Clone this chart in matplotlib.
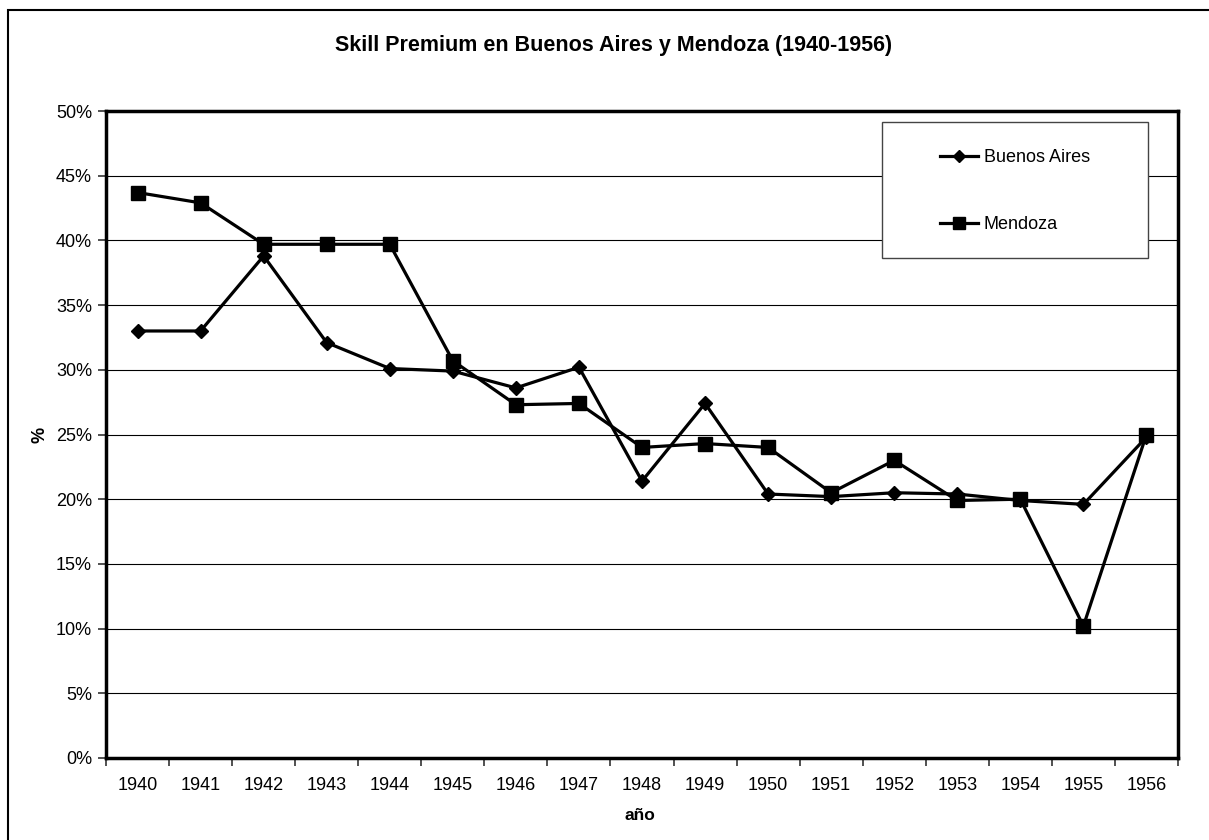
import matplotlib
matplotlib.use("Agg")
import matplotlib.pyplot as plt
from matplotlib.patches import Rectangle
from matplotlib.lines import Line2D
from matplotlib.ticker import FuncFormatter, FixedLocator

plt.rcParams['font.family'] = ['Liberation Sans', 'DejaVu Sans']

years = ['1940', '1941', '1942', '1943', '1944', '1945', '1946', '1947', '1948',
         '1949', '1950', '1951', '1952', '1953', '1954', '1955', '1956']
buenos_aires = [33.0, 33.0, 38.8, 32.1, 30.1, 29.9, 28.6, 30.2, 21.4,
                27.4, 20.4, 20.2, 20.5, 20.4, 19.9, 19.6, 24.8]
mendoza = [43.7, 42.9, 39.7, 39.7, 39.7, 30.7, 27.3, 27.4, 24.0,
           24.3, 24.0, 20.5, 23.0, 19.9, 20.0, 10.2, 25.0]
y_ticks = [0, 5, 10, 15, 20, 25, 30, 35, 40, 45, 50]

W, H = 1209, 840
fig = plt.figure(figsize=(W / 100, H / 100), dpi=100)
# outer chart border (right and bottom edges fall outside the picture)
fig.patches.append(Rectangle((8 / W, -10 / H), 1220 / W, 840 / H, transform=fig.transFigure,
                             fill=False, edgecolor='black', linewidth=1.5))

L, R, T, B = 106, 1178, 111, 758
ax = fig.add_axes([L / W, 1 - B / H, (R - L) / W, (B - T) / H])
x = list(range(len(years)))
ax.plot(x, buenos_aires, color='black', lw=2.3, marker='D', markersize=7, zorder=3)
ax.plot(x, mendoza, color='black', lw=2.3, marker='s', markersize=10, zorder=3)

ax.set_xlim(-0.5, len(years) - 0.5)
ax.set_ylim(0, 50)
ax.set_yticks(y_ticks)
ax.yaxis.set_major_formatter(FuncFormatter(lambda v, p: f"{int(v)}%"))
ax.grid(axis='y', color='black', lw=0.8, zorder=0)

ax.set_xticks(x)
ax.set_xticklabels(years)
ax.tick_params(axis='x', which='major', length=0, pad=14, labelsize=13)
ax.xaxis.set_minor_locator(FixedLocator([i - 0.5 for i in range(len(years) + 1)]))
ax.tick_params(axis='x', which='minor', length=6, width=1.2, direction='out', color='#333333')
ax.tick_params(axis='y', length=6, width=1.2, direction='out', labelsize=13, color='#333333', pad=4)

for s in ax.spines.values():
    s.set_linewidth(2.5)
    s.set_color('black')

fig.text(0.5 * (333 + 895) / W, 1 - 46 / H, 'Skill Premium en Buenos Aires y Mendoza (1940-1956)',
         ha='center', va='center', fontsize=15.5, fontweight='bold')
fig.text(40 / W, 1 - 435 / H, '%', ha='center', va='center', rotation=90, fontsize=13, fontweight='bold')
fig.text(640 / W, 1 - 816 / H, 'año', ha='center', va='center', fontsize=12.5, fontweight='bold')

# legend box
bx0, bx1, by0, by1 = 882, 1148, 122, 258
def to_ax(px, py):
    return (px - L) / (R - L), 1 - (py - T) / (B - T)
x0, y1 = to_ax(bx0, by0)
x1, y0 = to_ax(bx1, by1)
ax.add_patch(Rectangle((x0, y0), x1 - x0, y1 - y0, transform=ax.transAxes, facecolor='white',
                       edgecolor='#444444', lw=1.0, zorder=5))
handles = [Line2D([], [], color='black', lw=2.3, marker='D', markersize=6),
           Line2D([], [], color='black', lw=2.3, marker='s', markersize=8)]
cx, cy = to_ax((bx0 + bx1) / 2, (by0 + by1) / 2 + 1)
leg = ax.legend(handles, ['Buenos Aires', 'Mendoza'], loc='center', bbox_to_anchor=(cx, cy),
                frameon=False, fontsize=13, handlelength=2.1, labelspacing=2.75,
                handletextpad=0.3, borderpad=0, borderaxespad=0)
leg.set_zorder(6)

fig.savefig('out.png', dpi=100, facecolor='white')
